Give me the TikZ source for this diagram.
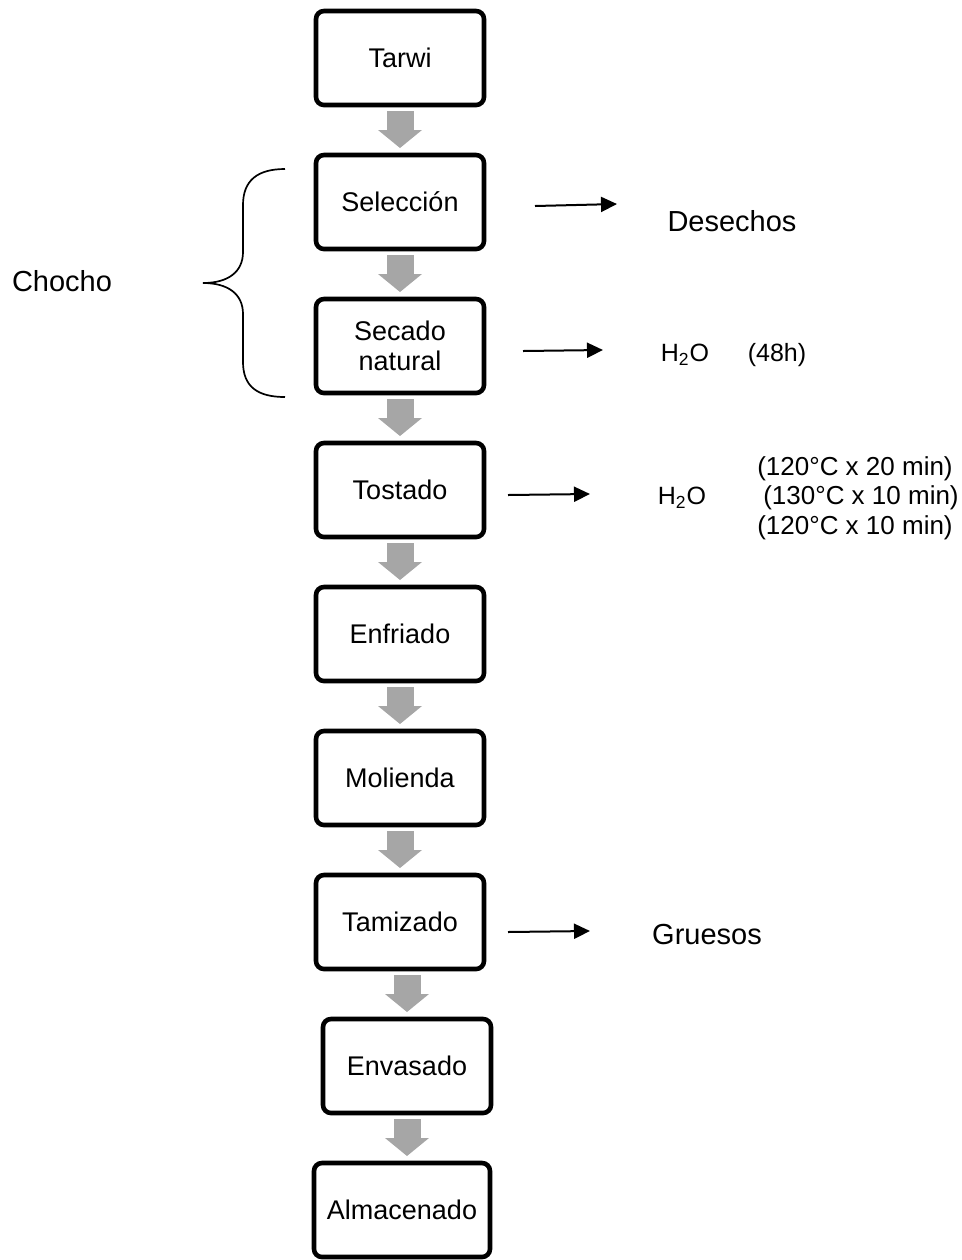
\documentclass[tikz,border=0pt]{standalone}
\usepackage{fontspec}
\setmainfont{Liberation Sans}
\usetikzlibrary{positioning,arrows.meta}
\definecolor{grisflecha}{HTML}{A6A6A6}

\begin{document}
\begin{tikzpicture}[x=0.5pt,y=-0.5pt,node distance=25pt]
    \tikzstyle{paso}=[draw,line width=2.3pt,rounded corners=4pt,outer sep=0pt,minimum width=84pt,minimum height=47pt,align=center,inner sep=2pt,font=\fontsize{13.5}{15}\selectfont]
    \tikzstyle{flecha}=[draw=grisflecha,line width=13.5pt,-{Triangle[width=22pt,length=9pt,line width=0pt]},shorten <=3pt,shorten >=3.5pt]
    \tikzstyle{sale}=[line width=1pt,-{Triangle[length=8pt,width=7.5pt]}]
    \tikzstyle{etiqueta}=[inner sep=0pt,font=\fontsize{14.5}{16}\selectfont]
    \tikzstyle{dato}=[inner sep=0pt,font=\fontsize{12.5}{14}\selectfont]
    \useasboundingbox (0,0) rectangle (962,1260);
    % etapas del proceso
    \node[paso] (tarwi) at (400,58) {Tarwi};
    \node[paso,below=of tarwi] (sel) {Selección};
    \node[paso,below=of sel] (sec) {Secado\\natural};
    \node[paso,below=of sec] (tos) {Tostado};
    \node[paso,below=of tos] (enf) {Enfriado};
    \node[paso,below=of enf] (mol) {Molienda};
    \node[paso,below=of mol] (tam) {Tamizado};
    \node[paso,below=of tam,xshift=3.5pt] (env) {Envasado};
    \node[paso,below=of env,xshift=-2.5pt,minimum width=88pt] (alm) {Almacenado};
    % flechas grises
    \draw[flecha] (tarwi) -- (sel);
    \draw[flecha] (sel) -- (sec);
    \draw[flecha] (sec) -- (tos);
    \draw[flecha] (tos) -- (enf);
    \draw[flecha] (enf) -- (mol);
    \draw[flecha] (mol) -- (tam);
    \draw[flecha] (env.north |- tam.south) -- (env.north);
    \draw[flecha] (env.south) -- (env.south |- alm.north);
    % salidas
    \node[etiqueta] (des) at (732,221) {Desechos};
    \node[dato] (agua1) at (685,355) {H\textsubscript{2}O};
    \node[dato] (horas) at (777,355) {(48h)};
    \node[dato] (agua2) at (682,498) {H\textsubscript{2}O};
    \node[inner sep=0pt,align=center,font=\fontsize{13}{14.75}\selectfont] (temp) at (855,498)
        {(120°C x 20 min)\\\hspace*{6pt}(130°C x 10 min)\\(120°C x 10 min)};
    \node[etiqueta] (gru) at (707,935) {Gruesos};
    \coordinate (sel-a) at (535,206);
    \coordinate (sel-b) at (617,204);
    \coordinate (sec-a) at (523,351);
    \coordinate (sec-b) at (603,350);
    \coordinate (tos-a) at (508,495);
    \coordinate (tos-b) at (590,494);
    \coordinate (tam-a) at (508,932);
    \coordinate (tam-b) at (590,931);
    \draw[sale] (sel-a) -- (sel-b);
    \draw[sale] (sec-a) -- (sec-b);
    \draw[sale] (tos-a) -- (tos-b);
    \draw[sale] (tam-a) -- (tam-b);
    % llave
    \node[etiqueta] (chocho) at (62,281) {Chocho};
    \draw[line width=0.85pt] (285,169) .. controls (258,169) and (243,180) .. (243,205) -- (243,252)
        .. controls (243,272) and (228,283) .. (203,283)
        .. controls (228,283) and (243,294) .. (243,314) -- (243,362)
        .. controls (243,387) and (258,397) .. (285,397);
\end{tikzpicture}
\end{document}
